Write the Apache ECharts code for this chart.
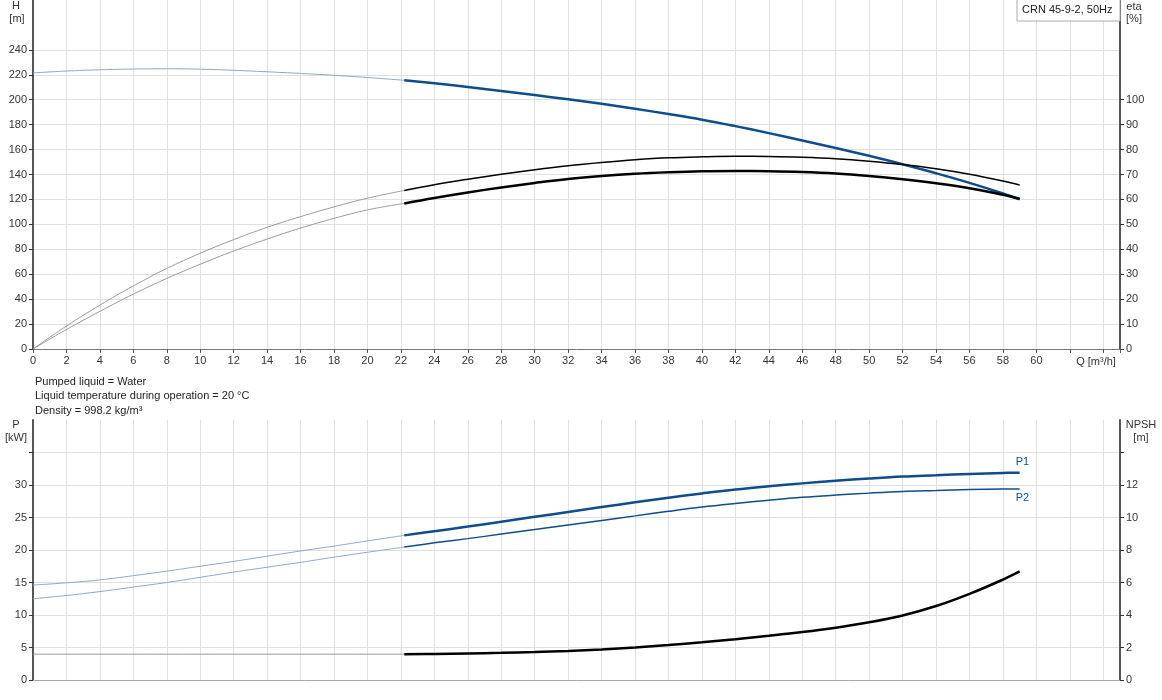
<!DOCTYPE html>
<html>
<head>
<meta charset="utf-8">
<script src="https://cdn.jsdelivr.net/npm/echarts@6/dist/echarts.min.js"></script>
<style>
  html, body { margin: 0; padding: 0; background: #fff; }
  #chart { width: 1162px; height: 700px; }
</style>
</head>
<body>
<div id="chart"></div>
<script>
// flow points (m3/h); index 11 (22.2) is where the bold part starts
const qPoints = [0, 2, 4, 6, 8, 10, 12, 14, 16, 18, 20, 22.2, 24, 26, 28, 30, 32, 34, 36, 38, 40, 42, 44, 46, 48, 50, 52, 54, 56, 58, 59];
const splitIdx = 11;

const headH = [221.5, 223, 224, 224.6, 224.8, 224.5, 223.6, 222.4, 221.1, 219.6, 217.8, 215.6, 213.2, 210.2, 207, 203.7, 200.3, 196.7, 192.7, 188.5, 184, 178.8, 173.2, 167.3, 161.3, 155, 148.2, 141, 133.3, 124.8, 120];
const etaUpper = [0, 9.2, 17.6, 25.3, 32.3, 38.4, 43.9, 48.8, 53.1, 57.0, 60.5, 63.6, 65.9, 68.1, 70.1, 71.9, 73.5, 74.8, 75.9, 76.7, 77.1, 77.3, 77.2, 76.9, 76.3, 75.3, 74, 72.3, 70.1, 67.4, 65.8];
const etaLower = [0, 7.8, 15.1, 22.0, 28.3, 34.0, 39.3, 44.1, 48.5, 52.4, 55.8, 58.4, 60.6, 62.8, 64.8, 66.6, 68.2, 69.4, 70.3, 70.9, 71.3, 71.4, 71.3, 71, 70.4, 69.4, 68.1, 66.5, 64.5, 61.9, 60.3];
const powerP1 = [14.6, 14.95, 15.4, 16.05, 16.75, 17.5, 18.25, 19.05, 19.85, 20.6, 21.4, 22.25, 22.9, 23.6, 24.35, 25.1, 25.85, 26.6, 27.35, 28.05, 28.7, 29.3, 29.8, 30.25, 30.65, 31.0, 31.3, 31.5, 31.7, 31.85, 31.9];
const powerP2 = [12.5, 13.0, 13.6, 14.3, 15.0, 15.8, 16.6, 17.35, 18.1, 18.9, 19.65, 20.45, 21.1, 21.75, 22.45, 23.15, 23.85, 24.55, 25.25, 25.95, 26.6, 27.15, 27.65, 28.1, 28.45, 28.75, 29.0, 29.15, 29.3, 29.38, 29.4];
const npsh = [1.59, 1.59, 1.59, 1.59, 1.59, 1.59, 1.59, 1.59, 1.59, 1.59, 1.59, 1.59, 1.6, 1.63, 1.67, 1.72, 1.79, 1.88, 2.0, 2.15, 2.32, 2.51, 2.72, 2.95, 3.22, 3.55, 3.97, 4.55, 5.3, 6.18, 6.68];

const hTicks = [0, 20, 40, 60, 80, 100, 120, 140, 160, 180, 200, 220, 240];
const etaTicks = [0, 10, 20, 30, 40, 50, 60, 70, 80, 90, 100];
const pLabels = [0, 5, 10, 15, 20, 25, 30];
const pTicks = [0, 5, 10, 15, 20, 25, 30, 35];
const npshLabels = [0, 2, 4, 6, 8, 10, 12];
const npshTicks = [0, 2, 4, 6, 8, 10, 12, 14];

const infoLines = ['Pumped liquid = Water', 'Liquid temperature during operation = 20 °C', 'Density = 998.2 kg/m³'];

const BLUE = '#0f4c8c';
const FADED_BLUE = '#8fa8c8';
const FADED_GRAY = '#9a9a9a';
const FONT = 'Liberation Sans, Arial, sans-serif';

const pairs = (vals, from, to) => qPoints.slice(from, to).map((q, i) => [q, vals[from + i]]);

// faded part + bold part for one curve
const curve = (vals, xi, yi, faded, color, width, extra) => [
  {
    type: 'line', xAxisIndex: xi, yAxisIndex: yi, smooth: 0.4, showSymbol: false, silent: true,
    data: pairs(vals, 0, splitIdx + 1),
    lineStyle: {color: faded, width: 1},
  },
  Object.assign({
    type: 'line', xAxisIndex: xi, yAxisIndex: yi, smooth: 0.4, showSymbol: false, silent: true,
    data: pairs(vals, splitIdx, qPoints.length),
    lineStyle: {color: color, width: width},
  }, extra || {}),
];

const endLabel = (text, dy) => ({
  endLabel: {
    show: true, formatter: text, color: BLUE, fontFamily: FONT, fontSize: 11,
    offset: [-12, dy],
  },
});

const gridLine = {show: true, lineStyle: {color: '#e0e0e0', width: 1}};
const labelStyle = {color: '#333', fontFamily: FONT, fontSize: 11};

const xAxisBase = (gi, showLabels) => ({
  type: 'value', gridIndex: gi, min: 0, max: 65, interval: 2,
  axisLine: {show: true, onZero: false, lineStyle: {color: showLabels ? '#777' : '#aaa', width: 1}},
  axisTick: {show: showLabels, length: 4, lineStyle: {color: '#555'}},
  axisLabel: Object.assign({show: showLabels, margin: 6, formatter: v => v <= 60 ? v : ''}, labelStyle),
  splitLine: gridLine,
});

const yAxisBase = (gi, pos, max, interval, labels, ticks, split) => ({
  type: 'value', gridIndex: gi, position: pos, min: 0, max: max, interval: interval,
  axisLine: {show: true, onZero: false, lineStyle: {color: '#555', width: 2}},
  axisTick: {show: true, length: 4, customValues: ticks, lineStyle: {color: '#333'}},
  axisLabel: Object.assign({customValues: labels, margin: 6}, labelStyle),
  splitLine: split ? gridLine : {show: false},
});

const chart = echarts.init(document.getElementById('chart'));

const texts = [
  ['H', 16, 0], ['[m]', 17, 13],
  ['eta', 1134, 1], ['[%]', 1134, 13],
  ['P', 16, 419], ['[kW]', 16, 432],
  ['NPSH', 1141, 419], ['[m]', 1141, 432],
  ['Q [m³/h]', 1096, 356],
].map(([t, x, y]) => ({
  type: 'text', position: [x, y],
  style: {text: t, fill: '#333', font: '11px ' + FONT, textAlign: 'center'},
}));

infoLines.forEach((t, i) => texts.push({
  type: 'text', position: [35, 376 + i * 14.5],
  style: {text: t, fill: '#222', font: '11px ' + FONT},
}));

chart.setOption({
  animation: false,
  backgroundColor: '#fff',
  grid: [
    {left: 33, right: 42, top: 0, height: 349},
    {left: 33, right: 42, top: 420, bottom: 20},
  ],
  xAxis: [xAxisBase(0, true), xAxisBase(1, false)],
  yAxis: [
    yAxisBase(0, 'left', 280, 20, hTicks, hTicks, true),
    yAxisBase(0, 'right', 140, 10, etaTicks, etaTicks, false),
    yAxisBase(1, 'left', 40, 5, pLabels, pTicks, true),
    yAxisBase(1, 'right', 16, 2, npshLabels, npshTicks, false),
  ],
  graphic: texts.concat([
    {
      type: 'rect', shape: {x: 1017, y: -1, width: 103, height: 22},
      style: {fill: '#fff', stroke: '#aaa', lineWidth: 1}, z: 10,
    },
    {
      type: 'text', position: [1022, 4], z: 11,
      style: {text: 'CRN 45-9-2, 50Hz', fill: '#222', font: '11px ' + FONT},
    },
  ]),
  series: [].concat(
    curve(headH, 0, 0, FADED_BLUE, BLUE, 2.5),
    curve(etaUpper, 0, 1, FADED_GRAY, '#000', 1.5),
    curve(etaLower, 0, 1, FADED_GRAY, '#000', 2.5),
    curve(powerP1, 1, 2, FADED_BLUE, BLUE, 2.5, endLabel('P1', -11)),
    curve(powerP2, 1, 2, FADED_BLUE, BLUE, 1.5, endLabel('P2', 9)),
    curve(npsh, 1, 3, FADED_GRAY, '#000', 2.5),
  ),
});
</script>
</body>
</html>
